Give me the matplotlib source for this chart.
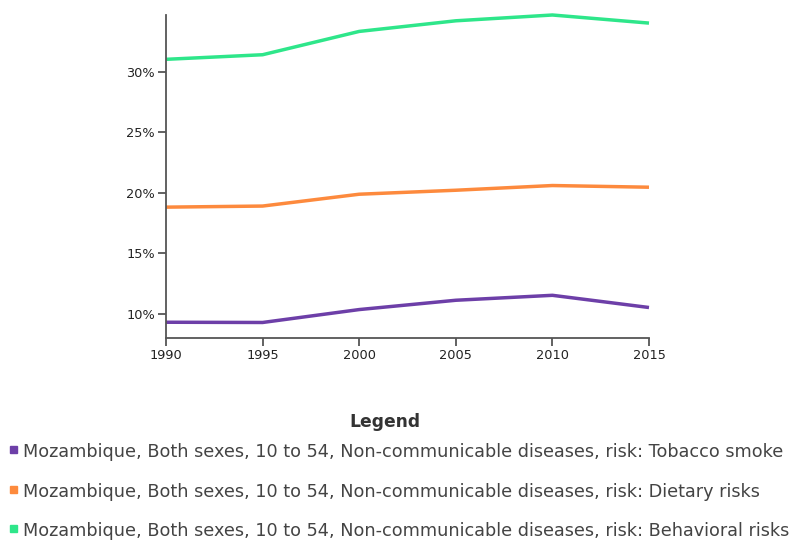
import numpy as np
import matplotlib.pyplot as plt
from matplotlib.patches import Rectangle
from matplotlib.ticker import FuncFormatter

# data (percent)
years = [1990, 1995, 2000, 2005, 2010, 2015]
tobacco = [9.28, 9.26, 10.33, 11.1, 11.51, 10.5]
dietary = [18.81, 18.9, 19.88, 20.21, 20.6, 20.46]
behavioral = [31.05, 31.43, 33.36, 34.24, 34.72, 34.05]

labels = ['Mozambique, Both sexes, 10 to 54, Non-communicable diseases, risk: Tobacco smoke',
          'Mozambique, Both sexes, 10 to 54, Non-communicable diseases, risk: Dietary risks',
          'Mozambique, Both sexes, 10 to 54, Non-communicable diseases, risk: Behavioral risks']
colors = ['#6d3fa8', '#fd8a3d', '#2ee68a']
series = [tobacco, dietary, behavioral]

fig = plt.figure(figsize=(7.92, 5.4), dpi=100)
ax = fig.add_axes([166/792, 1-337.7/540, (649-166)/792, (337.7-15)/540])

for vals, c in zip(series, colors):
    ax.plot(years, vals, color=c, lw=2.5, solid_capstyle='butt', clip_on=False)

ax.set_xlim(1990, 2015)
ax.set_ylim(8.0, max(behavioral))
ax.set_xticks(years)
ax.set_yticks([10, 15, 20, 25, 30])
ax.yaxis.set_major_formatter(FuncFormatter(lambda v, p: '%d%%' % v))

for s in ['top', 'right']:
    ax.spines[s].set_visible(False)
for s in ['left', 'bottom']:
    ax.spines[s].set_color('#555555')
    ax.spines[s].set_linewidth(1.3)
ax.tick_params(direction='out', length=6, width=1.3, color='#555555',
               labelsize=9.3, labelcolor='#222222', pad=2)

# legend drawn by hand
fig.text(385/792, 1-422/540, 'Legend', ha='center', va='center',
         fontsize=12.3, fontweight='bold', color='#333333')
ys = [452, 492, 531]
for lab, c, y in zip(labels, colors, ys):
    fig.patches.append(Rectangle((10/792, 1-(y+1)/540), 7/792, 7/540,
                                 transform=fig.transFigure, color=c, figure=fig))
    fig.text(23/792, 1-y/540, lab, ha='left', va='center', fontsize=12.7, color='#444444')

fig.savefig('out.png', dpi=100)
